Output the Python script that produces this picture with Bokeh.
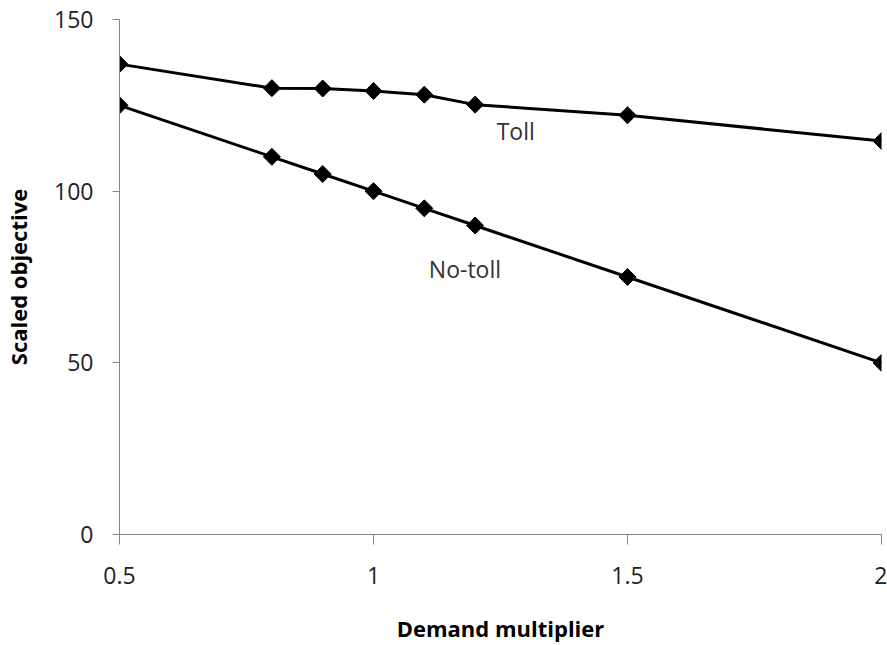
import numpy as np
from bokeh.plotting import figure
from bokeh.models import FixedTicker, ColumnDataSource
from bokeh.core.properties import value
from bokeh.embed import file_html
from bokeh.resources import INLINE

# Data
demand = [0.5, 0.8, 0.9, 1.0, 1.1, 1.2, 1.5, 2.0]
toll = [137, 130, 129.9, 129.2, 128.1, 125.2, 122.1, 114.6]
no_toll = [125, 110, 105, 100, 95, 90, 75, 50]

x_ticks = [0.5, 1, 1.5, 2]
x_tick_labels = ["0.5", "1", "1.5", "2"]
y_ticks = [0, 50, 100, 150]
y_tick_labels = ["0", "50", "100", "150"]

series_labels = ["Toll", "No-toll"]
label_x = [1.28, 1.18]
label_y = [117.4, 77.3]

FONT = "Open Sans"
TEXT = "#222222"
AXIS = "#868686"

p = figure(width=887, height=645, output_backend="svg", toolbar_location=None,
           x_range=(0.5, 2), y_range=(0, 150),
           min_border_left=118, min_border_right=6, min_border_top=19, min_border_bottom=110)
p.outline_line_color = None
p.xgrid.visible = False
p.ygrid.visible = False
p.background_fill_color = "white"
p.border_fill_color = "white"

for s in (no_toll, toll):
    p.line(demand, s, line_color="black", line_width=3)
    p.scatter(demand, s, marker="square", size=12, angle=np.pi / 4,
              fill_color="black", line_color="black")

src = ColumnDataSource(dict(x=label_x, y=label_y, t=series_labels))
p.text(x="x", y="y", text="t", source=src, text_font=value(FONT), text_font_size="23px",
       text_color="#333333", text_align="center", text_baseline="middle")

xa = p.xaxis[0]
xa.ticker = FixedTicker(ticks=x_ticks)
xa.major_label_overrides = {t: l for t, l in zip(x_ticks, x_tick_labels)}
xa.axis_label = "Demand multiplier"
ya = p.yaxis[0]
ya.ticker = FixedTicker(ticks=y_ticks)
ya.major_label_overrides = {t: l for t, l in zip(y_ticks, y_tick_labels)}
ya.axis_label = "Scaled objective"

for ax in (xa, ya):
    ax.axis_line_color = AXIS
    ax.axis_line_width = 1
    ax.major_tick_line_color = AXIS
    ax.minor_tick_line_color = None
    ax.major_tick_in = 0
    ax.major_label_text_font = FONT
    ax.major_label_text_font_size = "23px"
    ax.major_label_text_color = TEXT
    ax.axis_label_text_font = FONT
    ax.axis_label_text_font_style = "bold"
    ax.axis_label_text_font_size = "22px"
    ax.axis_label_text_color = "black"

xa.major_tick_out = 10
xa.major_label_standoff = 22
xa.axis_label_standoff = 26
ya.major_tick_out = 7
ya.major_label_standoff = 19
ya.axis_label_standoff = 18

open("out.html", "w").write(file_html(p, INLINE))
